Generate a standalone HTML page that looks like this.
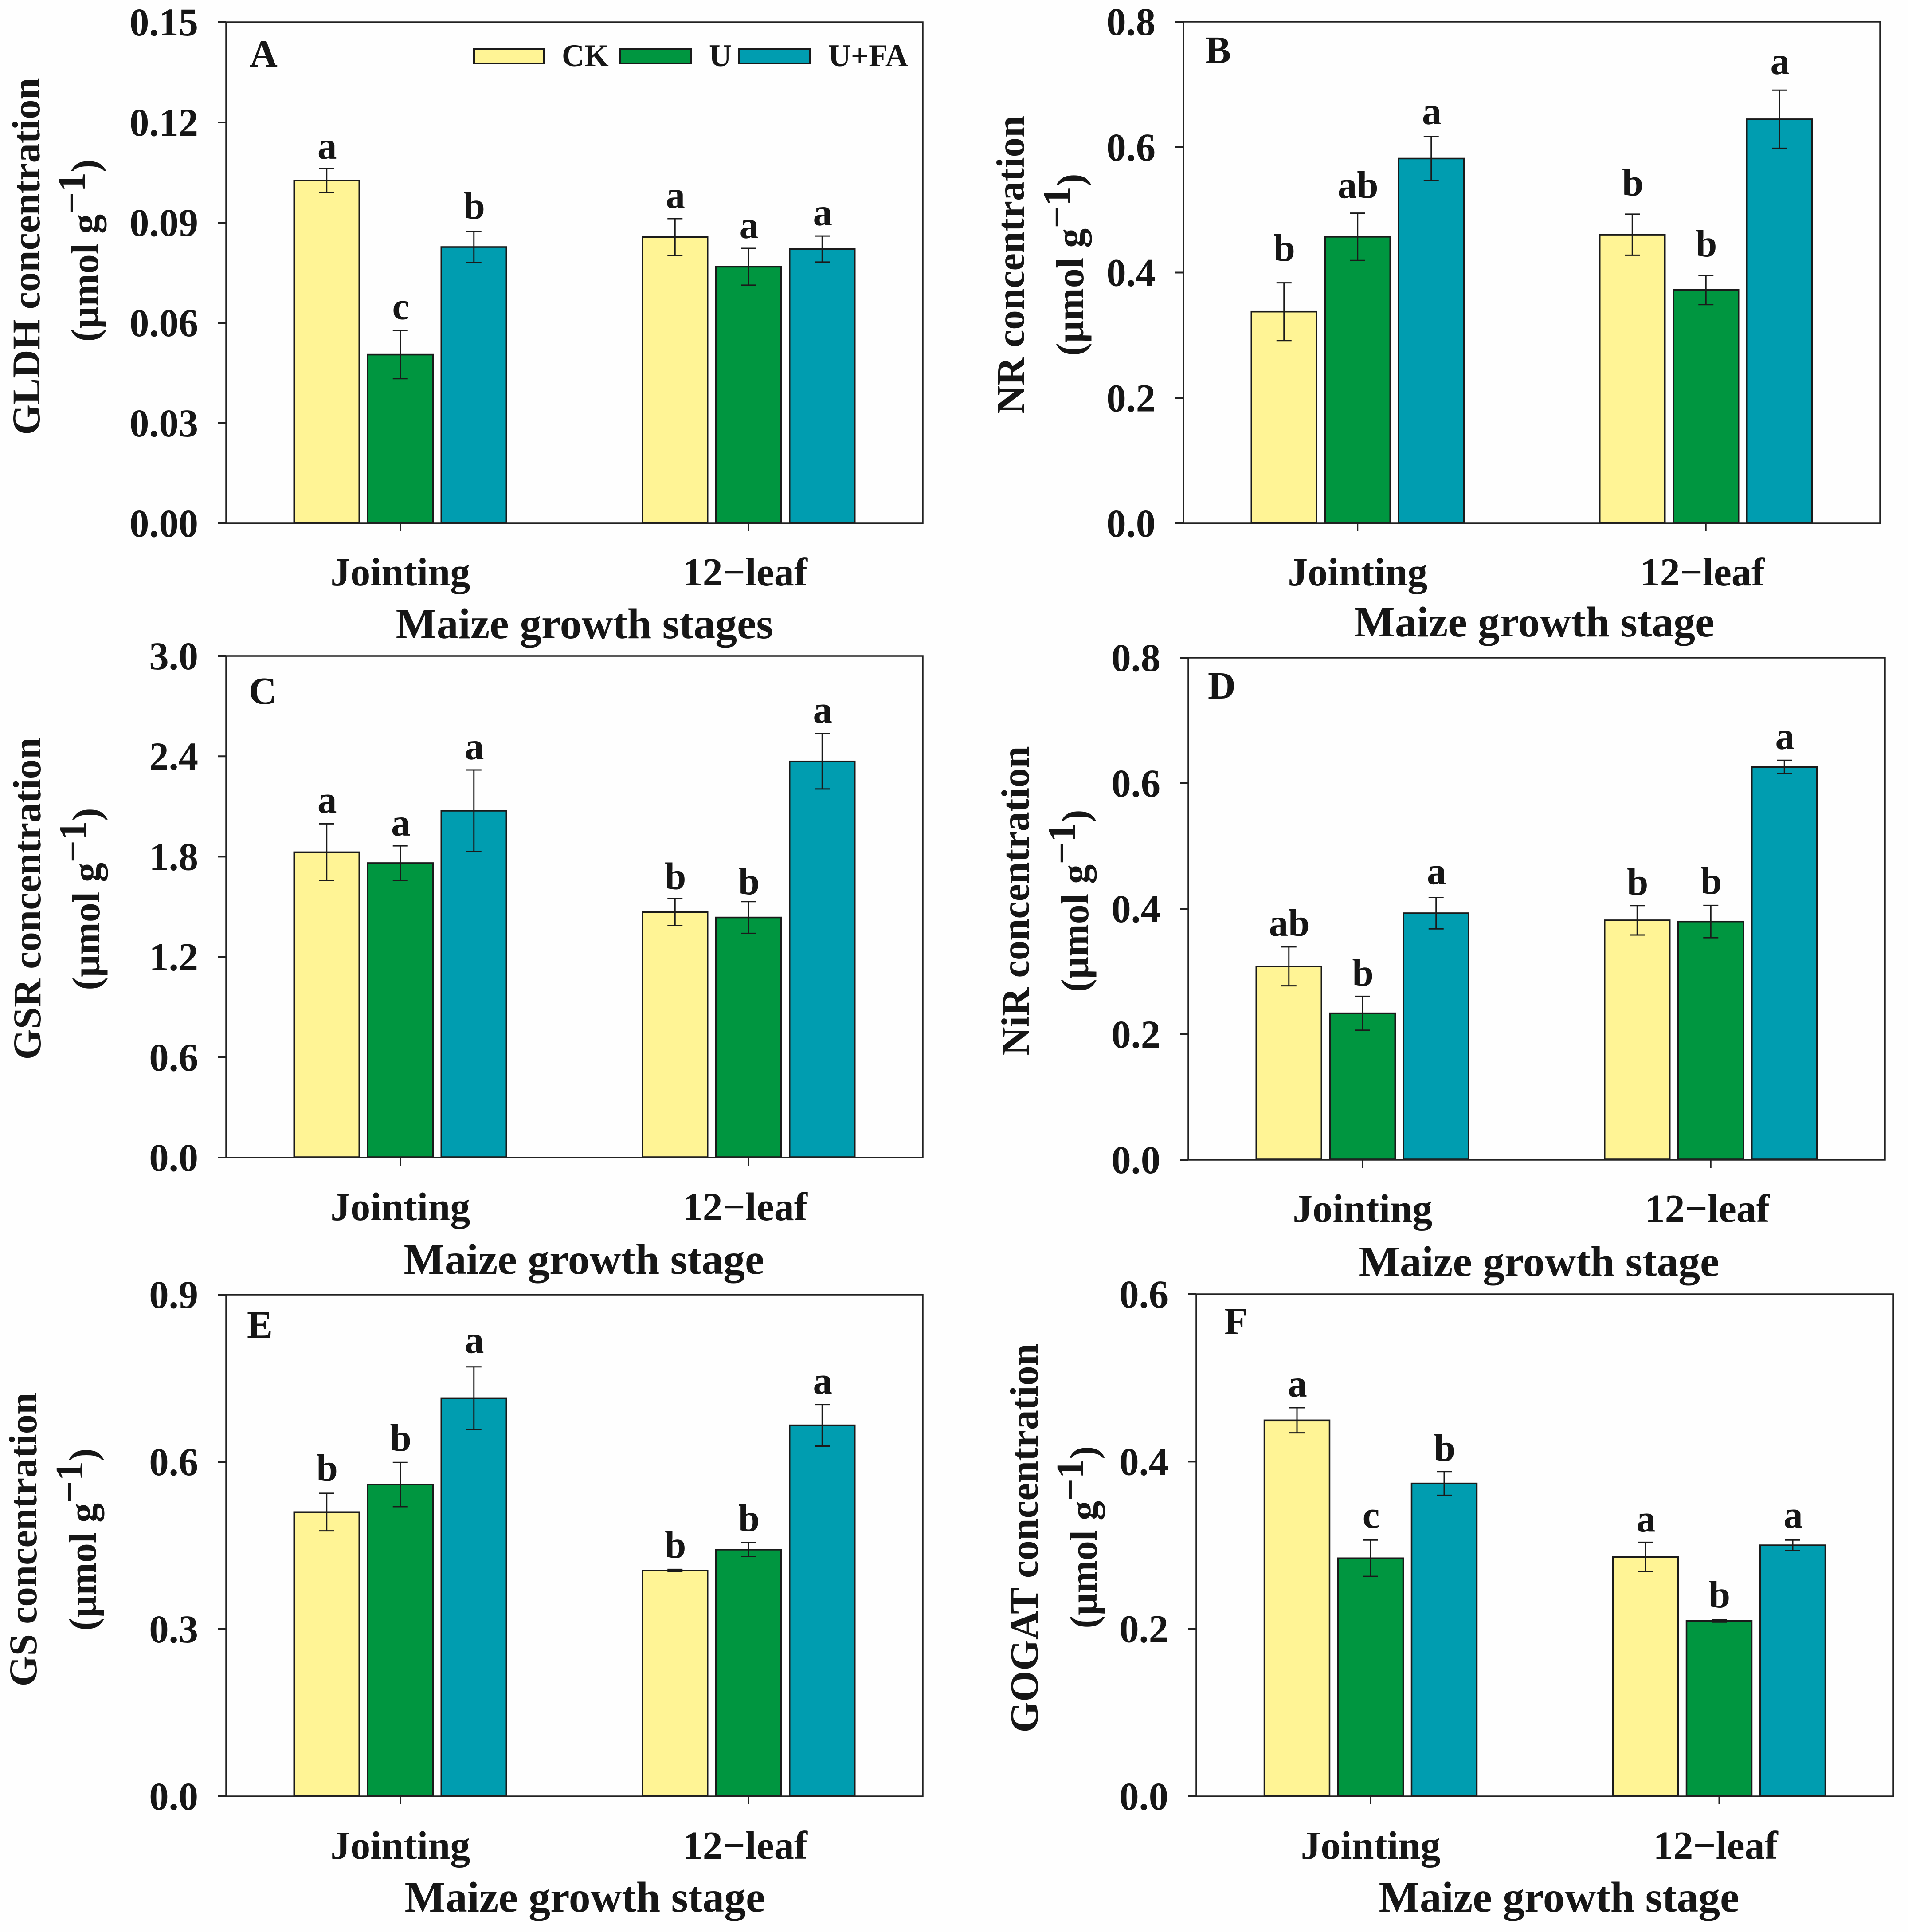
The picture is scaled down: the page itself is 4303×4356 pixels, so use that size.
<!DOCTYPE html>
<html lang="en">
<head>
<meta charset="utf-8">
<title>Maize enzyme concentrations by growth stage</title>
<style>
  html, body { margin: 0; padding: 0; background: #fefefe; }
  svg { display: block; }
  text { font-family: "Liberation Serif", "DejaVu Serif", serif; font-weight: bold; fill: #161616; }
  .tick { font-size: 88.5px; }
  .xlabel { font-size: 90px; }
  .ytitle { font-size: 88.7px; }
  .yunits { font-size: 88px; }
  .xtitle { font-size: 97.8px; }
  .tag { font-size: 87px; }
  .leg { font-size: 70.5px; }
</style>
</head>
<body>
<svg id="chart" xmlns="http://www.w3.org/2000/svg" width="4303" height="4356" viewBox="0 0 4303 4356">
  <rect x="0" y="0" width="4303" height="4356" fill="#fefefe"/>

  <g id="panel-a">
    <text class="ytitle" text-anchor="middle" transform="translate(89,578) rotate(-90)">GLDH concentration</text>
    <text class="yunits" text-anchor="middle" transform="translate(221,565) rotate(-90)">(µmol g<tspan dy="-30">−1</tspan><tspan dy="30">)</tspan></text>
    <text class="xtitle" text-anchor="middle" x="1318" y="1439">Maize growth stages</text>
    <text class="tag" x="563" y="150">A</text>
  </g>
  <g id="panel-b">
    <text class="ytitle" text-anchor="middle" transform="translate(2309,597) rotate(-90)">NR concentration</text>
    <text class="yunits" text-anchor="middle" transform="translate(2443,597) rotate(-90)">(µmol g<tspan dy="-30">−1</tspan><tspan dy="30">)</tspan></text>
    <text class="xtitle" text-anchor="middle" x="3460" y="1435">Maize growth stage</text>
    <text class="tag" x="2718" y="142">B</text>
  </g>
  <g id="panel-c">
    <text class="ytitle" text-anchor="middle" transform="translate(91,2026) rotate(-90)">GSR concentration</text>
    <text class="yunits" text-anchor="middle" transform="translate(224,2027) rotate(-90)">(µmol g<tspan dy="-30">−1</tspan><tspan dy="30">)</tspan></text>
    <text class="xtitle" text-anchor="middle" x="1317" y="2872">Maize growth stage</text>
    <text class="tag" x="561" y="1587">C</text>
  </g>
  <g id="panel-d">
    <text class="ytitle" text-anchor="middle" transform="translate(2320,2031) rotate(-90)">NiR concentration</text>
    <text class="yunits" text-anchor="middle" transform="translate(2454,2031) rotate(-90)">(µmol g<tspan dy="-30">−1</tspan><tspan dy="30">)</tspan></text>
    <text class="xtitle" text-anchor="middle" x="3471" y="2877">Maize growth stage</text>
    <text class="tag" x="2724" y="1575">D</text>
  </g>
  <g id="panel-e">
    <text class="ytitle" text-anchor="middle" transform="translate(82,3471) rotate(-90)">GS concentration</text>
    <text class="yunits" text-anchor="middle" transform="translate(216,3471) rotate(-90)">(µmol g<tspan dy="-30">−1</tspan><tspan dy="30">)</tspan></text>
    <text class="xtitle" text-anchor="middle" x="1319" y="4310">Maize growth stage</text>
    <text class="tag" x="557" y="3016">E</text>
  </g>
  <g id="panel-f">
    <text class="ytitle" text-anchor="middle" style="font-size:89.8px" transform="translate(2340,3468) rotate(-90)">GOGAT concentration</text>
    <text class="yunits" text-anchor="middle" transform="translate(2473,3466) rotate(-90)">(µmol g<tspan dy="-30">−1</tspan><tspan dy="30">)</tspan></text>
    <text class="xtitle" text-anchor="middle" x="3516" y="4310">Maize growth stage</text>
    <text class="tag" x="2761" y="3008">F</text>
  </g>

  <g id="legend">
    <rect x="1069" y="111" width="158" height="32" fill="#fff495" stroke="#1a1a1a" stroke-width="4"/>
    <text class="leg" x="1267" y="149">CK</text>
    <rect x="1398" y="111" width="161" height="32" fill="#009640" stroke="#1a1a1a" stroke-width="4"/>
    <text class="leg" x="1599" y="149">U</text>
    <rect x="1666" y="111" width="160" height="32" fill="#009db0" stroke="#1a1a1a" stroke-width="4"/>
    <text class="leg" x="1868" y="149">U+FA</text>
  </g>
</svg>

<script>
const stages = ['Jointing', '12−leaf'];
const seriesNames = ['CK', 'U', 'U+FA'];

const gldhTicks = ['0.00', '0.03', '0.06', '0.09', '0.12', '0.15'];
const gldhValues = [[0.1026, 0.0505, 0.0827], [0.0857, 0.0768, 0.0821]];
const gldhErrors = [[0.0036, 0.0072, 0.0046], [0.0055, 0.0055, 0.0039]];
const gldhLetters = [['a', 'c', 'b'], ['a', 'a', 'a']];

const nrTicks = ['0.0', '0.2', '0.4', '0.6', '0.8'];
const nrValues = [[0.3376, 0.4570, 0.5818], [0.4604, 0.3723, 0.6445]];
const nrErrors = [[0.0460, 0.0377, 0.0350], [0.0327, 0.0234, 0.0464]];
const nrLetters = [['b', 'ab', 'a'], ['b', 'b', 'a']];

const gsrTicks = ['0.0', '0.6', '1.2', '1.8', '2.4', '3.0'];
const gsrValues = [[1.8265, 1.7615, 2.0742], [1.4687, 1.4362, 2.3695]];
const gsrErrors = [[0.170, 0.103, 0.244], [0.080, 0.095, 0.165]];
const gsrLetters = [['a', 'a', 'a'], ['b', 'b', 'a']];

const nirTicks = ['0.0', '0.2', '0.4', '0.6', '0.8'];
const nirValues = [[0.3083, 0.2335, 0.3930], [0.3817, 0.3797, 0.6259]];
const nirErrors = [[0.0310, 0.0270, 0.0250], [0.0234, 0.0257, 0.0107]];
const nirLetters = [['ab', 'b', 'a'], ['b', 'b', 'a']];

const gsTicks = ['0.0', '0.3', '0.6', '0.9'];
const gsValues = [[0.5099, 0.5593, 0.7143], [0.4051, 0.4425, 0.6656]];
const gsErrors = [[0.0337, 0.0397, 0.0562], [0.0020, 0.0124, 0.0374]];
const gsLetters = [['b', 'b', 'a'], ['b', 'b', 'a']];

const gogatTicks = ['0.0', '0.2', '0.4', '0.6'];
const gogatValues = [[0.4493, 0.2845, 0.3739], [0.2860, 0.2097, 0.3000]];
const gogatErrors = [[0.0150, 0.0217, 0.0142], [0.0175, 0.0015, 0.0062]];
const gogatLetters = [['a', 'c', 'b'], ['a', 'b', 'a']];

const SVG_NS = 'http://www.w3.org/2000/svg';
const fills = ['#fff495', '#009640', '#009db0'];
const ink = '#1a1a1a';
const BAR_W = 147;
const BAR_PITCH = 166;
const CAP = 17;

function node(tag, attrs, parent) {
  const el = document.createElementNS(SVG_NS, tag);
  Object.keys(attrs).forEach(function (k) { el.setAttribute(k, attrs[k]); });
  parent.appendChild(el);
  return el;
}

function drawPanel(p) {
  const root = document.getElementById(p.id);
  const max = parseFloat(p.ticks[p.ticks.length - 1]);
  const yScale = function (v) { return p.bottom - (v / max) * (p.bottom - p.top); };
  const xScale = function (stageIndex) { return p.left + (p.right - p.left) * (stageIndex * 2 + 1) / 4; };

  p.values.forEach(function (group, s) {
    group.forEach(function (value, i) {
      const cx = xScale(s) + (i - 1) * BAR_PITCH;
      const yTop = yScale(value);

      const bar = node('rect', { x: cx - BAR_W / 2, y: yTop, width: BAR_W, height: p.bottom - 1 - yTop, fill: fills[i], stroke: ink, 'stroke-width': 3.5 }, root);
      
      

      const err = p.errors[s][i];
      const hi = yScale(value + err);
      const lo = yScale(value - err);
      const whisker = node('path', { d: 'M' + (cx - CAP) + ' ' + hi + 'H' + (cx + CAP) + 'M' + cx + ' ' + hi + 'V' + lo + 'M' + (cx - CAP) + ' ' + lo + 'H' + (cx + CAP), fill: 'none', stroke: ink, 'stroke-width': 3 }, root);
      
      

      const letter = node('text', { x: cx + 1, y: hi - p.letterGap[s][i], 'text-anchor': 'middle', class: 'tag' }, root);
      letter.textContent = p.letters[s][i];
      
      
    });
  });

  const frame = node('rect', { x: p.left, y: p.top, width: p.right - p.left, height: p.bottom - p.top, fill: 'none', stroke: '#222', 'stroke-width': 3.5 }, root);
  
  

  p.ticks.forEach(function (label) {
    const y = yScale(parseFloat(label));

    const mark = node('line', { x1: p.left - 18, x2: p.left, y1: y, y2: y, stroke: '#222', 'stroke-width': 4 }, root);
    
    

    const text = node('text', { x: p.left - 63, y: y + 30, 'text-anchor': 'end', class: 'tick' }, root);
    text.textContent = label;
    
    
  });

  stages.forEach(function (stage, s) {
    const x = xScale(s);

    const mark = node('line', { x1: x, x2: x, y1: p.bottom, y2: p.bottom + 18, stroke: '#222', 'stroke-width': 3 }, root);
    
    

    const text = node('text', { x: x - (s === 1 ? 8 : 0), y: p.xLabelY, 'text-anchor': 'middle', class: 'xlabel' }, root);
    text.textContent = stage;
    
    
  });
}

const panels = [
  { id: 'panel-a', left: 510, right: 2081, top: 50, bottom: 1180, xLabelY: 1320, ticks: gldhTicks, values: gldhValues, errors: gldhErrors, letters: gldhLetters, letterGap: [[22, 26, 29], [24, 23, 24]] },
  { id: 'panel-b', left: 2669, right: 4240, top: 49, bottom: 1180, xLabelY: 1320, ticks: nrTicks, values: nrValues, errors: nrErrors, letters: nrLetters, letterGap: [[49, 34, 28], [42, 42, 36]] },
  { id: 'panel-c', left: 510, right: 2081, top: 1479, bottom: 2610, xLabelY: 2751, ticks: gsrTicks, values: gsrValues, errors: gsrErrors, letters: gsrLetters, letterGap: [[25, 23, 24], [21, 16, 25]] },
  { id: 'panel-d', left: 2680, right: 4251, top: 1483, bottom: 2615, xLabelY: 2755, ticks: nirTicks, values: nirValues, errors: nirErrors, letters: nirLetters, letterGap: [[25, 24, 30], [24, 26, 25]] },
  { id: 'panel-e', left: 510, right: 2081, top: 2919, bottom: 4050, xLabelY: 4191, ticks: gsTicks, values: gsValues, errors: gsErrors, letters: gsLetters, letterGap: [[28, 26, 31], [26, 26, 24]] },
  { id: 'panel-f', left: 2698, right: 4270, top: 2918, bottom: 4050, xLabelY: 4191, ticks: gogatTicks, values: gogatValues, errors: gogatErrors, letters: gogatLetters, letterGap: [[25, 28, 24], [24, 27, 28]] }
];

panels.forEach(drawPanel);
</script>
</body>
</html>
